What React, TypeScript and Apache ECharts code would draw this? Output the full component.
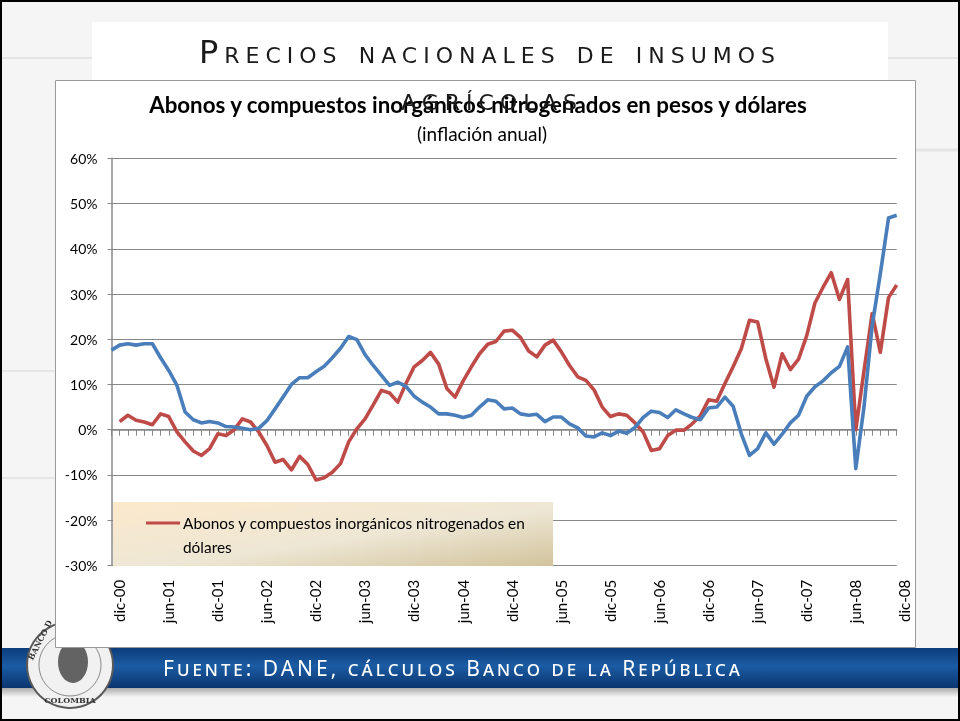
import React, { useEffect, useRef } from 'react';
import * as echarts from 'echarts';

// ---- Data ----
const MONTHS = ['ene', 'feb', 'mar', 'abr', 'may', 'jun', 'jul', 'ago', 'sep', 'oct', 'nov', 'dic'];
const YEARS = ['01', '02', '03', '04', '05', '06', '07', '08'];
const CATEGORIES: string[] = ['dic-00'];
YEARS.forEach((y) => MONTHS.forEach((m) => CATEGORIES.push(`${m}-${y}`)));

const Y_MIN = -30;
const Y_MAX = 60;
const Y_STEP = 10;

const SERIES_PESOS_NAME = 'Abonos y compuestos inorgánicos nitrogenados en pesos';
const SERIES_DOLARES_NAME = 'Abonos y compuestos inorgánicos nitrogenados en dólares';

// inflación anual (%), dic-00 .. dic-08
const PESOS = [
  17.6, 18.7, 19.0, 18.7, 19.0, 19.0, 15.9, 13.1, 9.8, 3.9,
  2.2, 1.5, 1.8, 1.5, 0.7, 0.6, 0.3, 0.0, 0.3, 2.0,
  4.6, 7.3, 10.0, 11.5, 11.5, 12.8, 14.0, 15.9, 18.0, 20.6,
  19.9, 16.6, 14.2, 12.0, 9.8, 10.5, 9.6, 7.4, 6.1, 5.0,
  3.5, 3.5, 3.2, 2.7, 3.2, 5.0, 6.6, 6.3, 4.6, 4.8,
  3.5, 3.2, 3.4, 1.8, 2.8, 2.8, 1.3, 0.4, -1.4, -1.6,
  -0.7, -1.3, -0.3, -0.8, 0.5, 2.7, 4.1, 3.8, 2.7, 4.4,
  3.5, 2.7, 2.2, 4.8, 5.0, 7.2, 5.2, -0.9, -5.7, -4.2,
  -0.7, -3.2, -1.0, 1.5, 3.2, 7.4, 9.5, 10.8, 12.6, 14.0,
  18.3, -8.6, 5.0, 23.0, 34.5, 46.8, 47.4,
];

const DOLARES = [
  null, 1.8, 3.2, 2.1, 1.7, 1.1, 3.5, 2.9, -0.5, -2.7,
  -4.7, -5.7, -4.2, -0.9, -1.3, 0.0, 2.4, 1.7, -0.5, -3.5,
  -7.2, -6.6, -8.9, -5.9, -7.7, -11.1, -10.6, -9.4, -7.5, -2.7,
  0.2, 2.4, 5.5, 8.7, 8.1, 6.1, 10.2, 13.9, 15.3, 17.1,
  14.5, 9.1, 7.2, 10.8, 13.9, 16.8, 18.9, 19.5, 21.8, 22.0,
  20.4, 17.4, 16.1, 18.7, 19.8, 17.2, 14.2, 11.7, 10.9, 8.8,
  5.0, 2.9, 3.5, 3.2, 1.5, -0.5, -4.6, -4.2, -1.3, -0.1,
  -0.1, 1.3, 3.1, 6.6, 6.3, 10.2, 13.9, 17.9, 24.2, 23.8,
  15.7, 9.4, 16.8, 13.3, 15.6, 20.8, 28.0, 31.5, 34.7, 28.8,
  33.2, 0.0, 13.0, 25.7, 17.1, 29.2, 32.0,
];

const SLIDE_TITLE_1 = 'Precios nacionales de insumos';
const SLIDE_TITLE_2 = 'agrícolas';
const CHART_TITLE = 'Abonos y compuestos inorgánicos nitrogenados en pesos y dólares';
const CHART_SUBTITLE = '(inflación anual)';
const LEGEND_TEXT = 'Abonos y compuestos inorgánicos nitrogenados en\ndólares';
const FOOTER = 'Fuente: DANE, cálculos Banco de la República';

const BLUE = '#4A7EBB';
const RED = '#BE4B48';
const GRID_GRAY = '#878787';

const CSS = `
text[style*="DejaVu Sans"]{font-variant:small-caps;letter-spacing:6px;}
text[style*="Noto Sans"]{font-variant:small-caps;letter-spacing:3px;}
`;

export default function App() {
  const ref = useRef<HTMLDivElement>(null);

  useEffect(() => {
    if (!ref.current) return;
    const chart = echarts.init(ref.current, null, { renderer: 'svg' });

    const option: any = {
      animation: false,
      title: [
        {
          text: CHART_TITLE,
          left: 473,
          top: 88,
          textAlign: 'center',
          textStyle: { fontFamily: 'Lato', fontWeight: 'bold', fontSize: 22.3, color: '#000' },
          z: 6,
        },
        {
          text: CHART_SUBTITLE,
          left: 477,
          top: 119,
          textAlign: 'center',
          textStyle: { fontFamily: 'Lato', fontWeight: 'normal', fontSize: 19, color: '#000' },
          z: 6,
        },
      ],
      grid: { left: 111.5, right: 63.3, top: 158.3, bottom: 155.6, containLabel: false },
      xAxis: [
        {
          type: 'category',
          data: CATEGORIES,
          boundaryGap: false,
          axisLine: { show: true, onZero: true, lineStyle: { color: GRID_GRAY, width: 1.5 } },
          axisTick: { show: true, interval: 0, length: 6, lineStyle: { color: GRID_GRAY, width: 1 } },
          axisLabel: { show: false },
          splitLine: { show: false },
        },
        {
          type: 'category',
          data: CATEGORIES,
          boundaryGap: false,
          position: 'bottom',
          axisLine: { show: false, onZero: false },
          axisTick: { show: false },
          splitLine: { show: false },
          axisLabel: {
            show: true,
            interval: 5,
            rotate: 90,
            margin: 14.5,
            verticalAlign: 'top',
            fontFamily: 'Lato',
            fontSize: 15,
            color: '#000',
          },
        },
      ],
      yAxis: {
        type: 'value',
        min: Y_MIN,
        max: Y_MAX,
        interval: Y_STEP,
        axisLine: { show: true, lineStyle: { color: GRID_GRAY, width: 1.5 } },
        axisTick: { show: true, length: 4, lineStyle: { color: GRID_GRAY } },
        splitLine: { show: true, lineStyle: { color: GRID_GRAY, width: 1 } },
        axisLabel: {
          formatter: '{value}%',
          margin: 14,
          fontFamily: 'Lato',
          fontSize: 14,
          color: '#000',
        },
      },
      series: [
        {
          name: SERIES_PESOS_NAME,
          type: 'line',
          xAxisIndex: 0,
          data: PESOS,
          showSymbol: false,
          symbol: 'none',
          lineStyle: { color: BLUE, width: 3.6, join: 'round', cap: 'butt' },
          itemStyle: { color: BLUE },
          z: 3,
        },
        {
          name: SERIES_DOLARES_NAME,
          type: 'line',
          xAxisIndex: 0,
          data: DOLARES,
          showSymbol: false,
          symbol: 'none',
          lineStyle: { color: RED, width: 3.6, join: 'round', cap: 'butt' },
          itemStyle: { color: RED },
          z: 2,
        },
      ],
      graphic: [
        // page background
        {
          type: 'rect', z: -20, silent: true,
          shape: { x: 0, y: 0, width: 960, height: 721 },
          style: { fill: '#f5f5f5' },
        },
        { type: 'line', z: -19, silent: true, shape: { x1: 0, y1: 58, x2: 960, y2: 58 }, style: { stroke: '#e4e4e4', lineWidth: 2 } },
        { type: 'line', z: -19, silent: true, shape: { x1: 900, y1: 150, x2: 960, y2: 150 }, style: { stroke: '#e4e4e4', lineWidth: 3 } },
        { type: 'line', z: -19, silent: true, shape: { x1: 0, y1: 371, x2: 60, y2: 371 }, style: { stroke: '#e6e6e6', lineWidth: 2 } },
        { type: 'line', z: -19, silent: true, shape: { x1: 0, y1: 478, x2: 60, y2: 478 }, style: { stroke: '#e6e6e6', lineWidth: 2 } },
        // slide title panel
        {
          type: 'rect', z: -18, silent: true,
          shape: { x: 92, y: 22, width: 796, height: 90 },
          style: { fill: '#ffffff' },
        },
        // blue band + shadow
        {
          type: 'rect', z: -17, silent: true,
          shape: { x: 0, y: 687, width: 960, height: 10 },
          style: {
            fill: new echarts.graphic.LinearGradient(0, 0, 0, 1, [
              { offset: 0, color: 'rgba(60,60,60,0.45)' },
              { offset: 1, color: 'rgba(60,60,60,0)' },
            ]),
          },
        },
        {
          type: 'rect', z: -16, silent: true,
          shape: { x: 0, y: 648, width: 960, height: 40 },
          style: {
            fill: new echarts.graphic.LinearGradient(0, 0, 0, 1, [
              { offset: 0, color: '#0c3c7a' },
              { offset: 0.45, color: '#1b5ca4' },
              { offset: 1, color: '#0a346e' },
            ]),
          },
        },
        // seal
        {
          type: 'circle', z: -15, silent: true,
          shape: { cx: 70, cy: 665, r: 43 },
          style: { fill: '#f1f1f1', stroke: '#5a5a5a', lineWidth: 2 },
        },
        {
          type: 'circle', z: -15, silent: true,
          shape: { cx: 70, cy: 665, r: 31 },
          style: { fill: 'none', stroke: '#8a8a8a', lineWidth: 1 },
        },
        {
          type: 'ellipse', z: -15, silent: true,
          shape: { cx: 73, cy: 662, rx: 15, ry: 21 },
          style: { fill: '#4a4a4a', opacity: 0.85 },
        },
        {
          type: 'text', z: -15, silent: true, x: 70, y: 700,
          style: { text: 'COLOMBIA', fontSize: 8, fontWeight: 'bold', fontFamily: 'DejaVu Serif', fill: '#333', align: 'center', verticalAlign: 'middle' },
        },
        {
          type: 'text', z: -15, silent: true, x: 40, y: 640, rotation: 1.1,
          style: { text: 'BANCO D', fontSize: 8, fontWeight: 'bold', fontFamily: 'DejaVu Serif', fill: '#333', align: 'center', verticalAlign: 'middle' },
        },
        // footer text
        {
          type: 'text', z: -14, silent: true, x: 163, y: 668,
          style: { text: FOOTER, fontSize: 21, fontFamily: 'Noto Sans', fill: '#ffffff', align: 'left', verticalAlign: 'middle' },
        },
        // chart box
        {
          type: 'rect', z: -12, silent: true,
          shape: { x: 55.5, y: 80.5, width: 860, height: 567 },
          style: { fill: '#ffffff', stroke: '#9a9a9a', lineWidth: 1 },
        },
        // slide title
        {
          type: 'text', z: 30, silent: true, x: 490, y: 52,
          style: { text: SLIDE_TITLE_1, fontSize: 32, fontFamily: 'DejaVu Sans', fill: '#1a1a1a', align: 'center', verticalAlign: 'middle' },
        },
        {
          type: 'text', z: 30, silent: true, x: 492, y: 99,
          style: { text: SLIDE_TITLE_2, fontSize: 32, fontFamily: 'DejaVu Sans', fill: '#1a1a1a', align: 'center', verticalAlign: 'middle' },
        },
        // legend
        {
          type: 'rect', z: 10, silent: true,
          shape: { x: 113, y: 502, width: 440, height: 64 },
          style: {
            fill: new echarts.graphic.LinearGradient(0, 0, 1, 1, [
              { offset: 0, color: '#fce9cb' },
              { offset: 0.55, color: '#eee7d5' },
              { offset: 1, color: '#d2c39c' },
            ]),
          },
        },
        {
          type: 'line', z: 11, silent: true,
          shape: { x1: 146, y1: 523, x2: 180, y2: 523 },
          style: { stroke: RED, lineWidth: 3 },
        },
        {
          type: 'text', z: 11, silent: true, x: 183, y: 511,
          style: { text: LEGEND_TEXT, fontSize: 15.4, fontFamily: 'Lato', fill: '#000', align: 'left', verticalAlign: 'top', lineHeight: 24 },
        },
        // outer frame
        {
          type: 'rect', z: 40, silent: true,
          shape: { x: 1, y: 1, width: 958, height: 719 },
          style: { fill: 'none', stroke: '#000', lineWidth: 2 },
        },
      ],
    };

    chart.setOption(option);
    return () => chart.dispose();
  }, []);

  return (
    <>
      <style>{CSS}</style>
      <div ref={ref} style={{ position: 'fixed', left: 0, top: 0, width: 960, height: 721 }} />
    </>
  );
}
